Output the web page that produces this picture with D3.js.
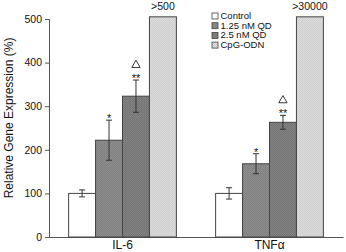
<!DOCTYPE html>
<html>
<head>
<meta charset="utf-8">
<script src="https://cdn.jsdelivr.net/npm/d3@7"></script>
<style>
  body { margin: 0; background: #fff; }
  text { font-family: "Liberation Sans", Arial, sans-serif; fill: #111; }
</style>
</head>
<body>
<div id="chart"></div>
<script>
var genes = ["IL-6", "TNFα"];
var series = ["Control", "1.25 nM QD", "2.5 nM QD", "CpG-ODN"];
// CpG bars are off the scale; drawn just past the top
var il6Values = [100, 222, 323, 505];
var il6Errors = [8, 46, 37, 0];
var tnfValues = [100, 168, 263, 505];
var tnfErrors = [13, 23, 16, 0];
var il6Marks = ["", "*", "**", ""];
var tnfMarks = ["", "*", "**", ""];
var il6Delta = [false, false, true, false];
var tnfDelta = [false, false, true, false];
var overLabels = [">500", ">30000"];
var yTicks = [0, 100, 200, 300, 400, 500];

var width = 346, height = 252;
var margin = {top: 19, right: 3, bottom: 15, left: 49};

var rows = [
    {gene: genes[0], values: il6Values, errors: il6Errors, marks: il6Marks, delta: il6Delta, over: overLabels[0]},
    {gene: genes[1], values: tnfValues, errors: tnfErrors, marks: tnfMarks, delta: tnfDelta, over: overLabels[1]}
];

var svg = d3.select("#chart").append("svg")
    .attr("width", width)
    .attr("height", height);

// checker fills like the scanned figure
var defs = svg.append("defs");
function checker(id, a, b) {
    var p = defs.append("pattern")
        .attr("id", id)
        .attr("width", 2).attr("height", 2)
        .attr("patternUnits", "userSpaceOnUse");
    p.append("rect").attr("width", 2).attr("height", 2).attr("fill", a);
    p.append("rect").attr("width", 1).attr("height", 1).attr("fill", b);
    p.append("rect").attr("x", 1).attr("y", 1).attr("width", 1).attr("height", 1).attr("fill", b);
}
checker("p1", "#a4a4a4", "#6a6a6a");
checker("p2", "#999", "#5e5e5e");
checker("p3", "#e6e6e6", "#c4c4c4");
var fills = ["#fff", "url(#p1)", "url(#p2)", "url(#p3)"];

var x0 = d3.scaleBand()
    .domain(genes)
    .range([margin.left, width - margin.right])
    .paddingInner(0.267)
    .paddingOuter(0.1335);

var x1 = d3.scaleBand()
    .domain(series)
    .range([0, x0.bandwidth()]);

var y = d3.scaleLinear()
    .domain([0, 500])
    .range([height - margin.bottom, margin.top]);

// y axis
var yAxis = svg.append("g")
    .attr("transform", "translate(" + margin.left + ",0)")
    .call(d3.axisLeft(y).tickValues(yTicks).tickSize(4).tickPadding(3));
yAxis.select(".domain").attr("stroke", "#555");
yAxis.selectAll(".tick line").attr("stroke", "#555");
yAxis.selectAll("text")
    .style("font-size", "10.5px")
    .attr("fill", "#111");

// x baseline
var xAxis = svg.append("g")
    .attr("transform", "translate(0," + y(0) + ")")
    .call(d3.axisBottom(x0).tickSize(0).tickPadding(3.5));
xAxis.select(".domain").attr("stroke", "#555");
xAxis.selectAll("text")
    .style("font-size", "12px")
    .attr("fill", "#111");

svg.append("text")
    .attr("transform", "rotate(-90)")
    .attr("x", -(y(0) + y(500)) / 2 + 10)
    .attr("y", 13)
    .attr("text-anchor", "middle")
    .style("font-size", "12px")
    .text("Relative Gene Expression (%)");

var group = svg.selectAll(".grp")
    .data(rows)
    .join("g")
    .attr("class", "grp")
    .attr("transform", d => "translate(" + x0(d.gene) + ",0)");

var items = d => series.map((s, i) => ({
    s: s, i: i, v: d.values[i], e: d.errors[i], m: d.marks[i], t: d.delta[i]
}));

group.selectAll("rect")
    .data(items)
    .join("rect")
    .attr("x", d => x1(d.s))
    .attr("y", d => y(d.v))
    .attr("width", x1.bandwidth())
    .attr("height", d => y(0) - y(d.v))
    .attr("fill", d => fills[d.i])
    .attr("stroke", "#444")
    .attr("stroke-width", 1);

// error bars
var eb = group.selectAll(".err")
    .data(d => items(d).filter(p => p.e > 0))
    .join("g")
    .attr("class", "err")
    .attr("stroke", "#333")
    .attr("stroke-width", 1);
var cx = d => x1(d.s) + x1.bandwidth() / 2;
eb.append("line")
    .attr("x1", cx).attr("x2", cx)
    .attr("y1", d => y(d.v + d.e)).attr("y2", d => y(d.v - d.e));
eb.append("line")
    .attr("x1", d => cx(d) - 3).attr("x2", d => cx(d) + 3)
    .attr("y1", d => y(d.v + d.e)).attr("y2", d => y(d.v + d.e));
eb.append("line")
    .attr("x1", d => cx(d) - 3).attr("x2", d => cx(d) + 3)
    .attr("y1", d => y(d.v - d.e)).attr("y2", d => y(d.v - d.e));

// significance stars
group.selectAll(".star")
    .data(d => items(d).filter(p => p.m))
    .join("text")
    .attr("class", "star")
    .attr("x", cx)
    .attr("y", d => y(d.v + d.e) + 2)
    .attr("text-anchor", "middle")
    .style("font-size", "11px")
    .attr("fill", "#444")
    .text(d => d.m);

// open triangles
group.selectAll(".delta")
    .data(d => items(d).filter(p => p.t))
    .join("path")
    .attr("class", "delta")
    .attr("d", d3.symbol(d3.symbolTriangle, 30))
    .attr("transform", d => "translate(" + cx(d) + "," + (y(d.v + d.e) - 15) + ")")
    .attr("fill", "none")
    .attr("stroke", "#222")
    .attr("stroke-width", 0.9);

// labels over the off-scale bars
group.append("text")
    .attr("x", x1(series[3]) + x1.bandwidth() / 2)
    .attr("y", 10)
    .attr("text-anchor", "middle")
    .style("font-size", "10.5px")
    .text(d => d.over);

// legend
var legend = svg.append("g")
    .attr("transform", "translate(212,11)");
var li = legend.selectAll("g")
    .data(series)
    .join("g")
    .attr("transform", (d, i) => "translate(0," + (i * 9.7) + ")");
li.append("rect")
    .attr("width", 6).attr("height", 6)
    .attr("y", 2)
    .attr("fill", (d, i) => fills[i])
    .attr("stroke", "#444")
    .attr("stroke-width", 0.8);
li.append("text")
    .attr("x", 8.5)
    .attr("y", 8)
    .style("font-size", "9.5px")
    .text(d => d);
</script>
</body>
</html>
